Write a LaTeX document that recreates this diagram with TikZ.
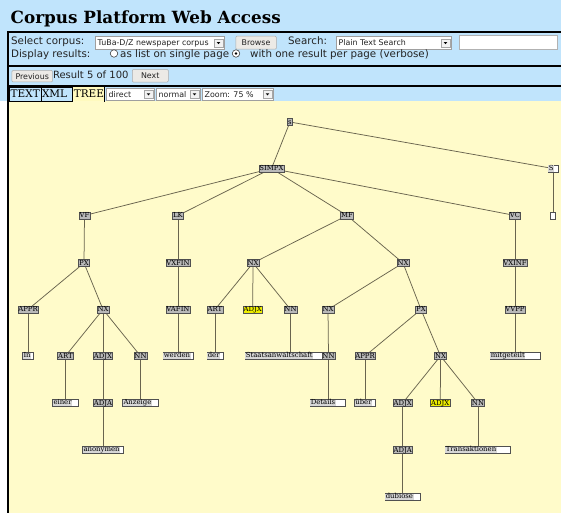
\documentclass[tikz,border=0pt]{standalone}
\usepackage{fontspec}
\setmainfont{DejaVu Serif}
\newfontfamily\uisans{DejaVu Sans}
\newfontfamily\uiserif{DejaVu Serif}
\usetikzlibrary{calc}
\pgfdeclarelayer{bglayer}
\pgfdeclarelayer{edgelayer}
\pgfsetlayers{bglayer,edgelayer,main}
\definecolor{bgblue}{RGB}{192,228,252}
\definecolor{bgyellow}{RGB}{255,251,202}
\definecolor{tabyellow}{RGB}{255,250,190}
\definecolor{hlfill}{RGB}{238,238,0}
\definecolor{labfill}{RGB}{185,185,185}
\definecolor{leafhl}{RGB}{215,215,215}
\definecolor{boxline}{RGB}{80,80,80}
\definecolor{edgecol}{RGB}{105,100,78}
\definecolor{uitext}{RGB}{35,35,35}
\definecolor{btnfill}{RGB}{236,234,230}
\newcommand\treefont{\uiserif\fontsize{6.9}{7}\selectfont}
\newcommand\formfont{\uisans\fontsize{10.3}{12}\selectfont}
\newcommand\resfont{\uisans\fontsize{10}{12}\selectfont}
\newcommand\smallui{\uisans\fontsize{7.9}{9}\selectfont}
\newcommand\tabfont{\uiserif\fontsize{10.5}{12}\selectfont}
\newcommand\titlefont{\uiserif\bfseries\fontsize{16.8}{19}\selectfont}
\tikzset{
  lab/.style={draw=boxline, fill=labfill, line width=0.5pt, inner xsep=0.5pt, inner ysep=0pt,
    minimum height=7.3pt, font=\treefont, text height=5pt, text depth=0.6pt},
  hlab/.style={lab, fill=hlfill},
  leafbox/.style={draw=boxline, fill=white, line width=0.5pt, minimum height=7.3pt, inner sep=0pt},
  leaftext/.style={fill=leafhl, inner xsep=0.5pt, inner ysep=0pt, font=\treefont,
    text height=5pt, text depth=1.3pt, minimum height=6.6pt},
  edge/.style={draw=edgecol, line width=0.75pt},
  ddbox/.style={draw=gray!75, fill=white, line width=0.5pt, inner sep=0pt},
  ddtext/.style={font=\smallui, text=uitext, inner sep=0pt},
  ddarrow/.style={draw=gray!70, fill=gray!10, line width=0.4pt, minimum size=8.5pt, inner sep=0pt},
  btn/.style={draw=gray!65, fill=btnfill, line width=0.5pt, rounded corners=1pt, inner sep=0pt,
    font=\smallui, text=uitext},
  uitxt/.style={font=\formfont, text=uitext, inner sep=0pt, anchor=base west},
  radio/.style={circle, draw=gray!55!black, fill=white, line width=0.6pt, minimum size=7.5pt, inner sep=0pt},
  tabbox/.style={draw=black, line width=0.8pt, inner sep=0pt, anchor=north west, minimum height=14pt},
  blackline/.style={draw=black, line width=1.8pt}
}
\newcommand\dropdown[6]{%
  \node[ddbox, anchor=north west, minimum width=#4, minimum height=#5] (#1) at (#2,#3) {};
  \node[ddtext, anchor=west] at ([xshift=2.5pt]#1.west) {#6};
  \node[ddarrow] (#1a) at ([xshift=-6pt]#1.east) {};
  \fill[black] ([xshift=-1.8pt,yshift=0.9pt]#1a.center) -- ++(3.6pt,0) -- ++(-1.8pt,-2pt) -- cycle;
}
\newcommand\leafnode[5]{%
  \node[leafbox, minimum width=#4] (#1) at (#2,#3) {};
  \node[leaftext, anchor=west, xshift=0.35pt] at (#1.west) {#5};
}
\begin{document}
\begin{tikzpicture}[x=1pt,y=-1pt]
\useasboundingbox (0,0) rectangle (561,513);
\begin{pgfonlayer}{bglayer}
  \fill[bgblue] (0,0) rectangle (561,101);
  \fill[white] (0,101) rectangle (8,513);
  \fill[bgyellow] (8,101) rectangle (561,513);
\end{pgfonlayer}
% frame lines
\draw[blackline] (7,32) -- (561,32);
\draw[blackline] (7,65.8) -- (561,65.8);
\draw[blackline] (7,85.8) -- (561,85.8);
\draw[blackline] (8,31.1) -- (8,513);
% title
\node[anchor=base west, font=\titlefont, inner sep=0pt] (title) at (10.5,23.3) {Corpus Platform Web Access};
% form row 1
\node[uitxt] (selcorp) at (11,44.8) {Select corpus:};
\dropdown{corpus}{95}{36.5}{129pt}{12.5pt}{TuBa-D/Z newspaper corpus}
\node[btn, anchor=north west, minimum width=40.5pt, minimum height=13pt] (browse) at (235.5,36) {Browse};
\node[uitxt] (search) at (288,44.8) {Search:};
\dropdown{mode}{336}{36.5}{115pt}{12.5pt}{Plain Text Search}
\node[ddbox, draw=gray!60, line width=0.9pt, anchor=north west, minimum width=98pt, minimum height=14pt] (query) at (459,35.3) {};
% form row 2
\node[uitxt] (disp) at (11,57.3) {Display results:};
\node[radio] (r1) at (114,53.5) {};
\node[uitxt] (opt1) at (120,57.3) {as list on single page};
\node[radio] (r2) at (236,53.5) {};
\fill[black] (r2.center) circle (1.4pt);
\node[uitxt] (opt2) at (250,57.3) {with one result per page (verbose)};
% navigation row
\node[btn, anchor=north west, minimum width=40.5pt, minimum height=11.5pt] (prev) at (11.7,70.2) {Previous};
\node[anchor=base west, font=\resfont, text=uitext, inner sep=0pt] (res) at (52.8,78.3) {Result 5 of 100};
\node[btn, anchor=north west, minimum width=36pt, minimum height=12.5pt] (next) at (132,69.3) {Next};
% tab row
\node[tabbox, fill=bgblue, minimum width=32pt] (ttext) at (8.8,87) {};
\node[font=\tabfont, inner sep=0pt, anchor=base] at ([yshift=-10.3pt]ttext.north) {TEXT};
\node[tabbox, fill=bgblue, minimum width=31pt] (txml) at (40.8,87) {};
\node[font=\tabfont, inner sep=0pt, anchor=base west] at ([xshift=1pt,yshift=-10.3pt]txml.north west) {XML};
\node[tabbox, draw=none, fill=tabyellow, minimum width=31pt] (ttree) at (73,87) {};
\draw[black, line width=0.8pt] (ttree.north east) -- (ttree.south east);
\node[font=\tabfont, inner sep=0pt, anchor=base] at ([yshift=-10.3pt]ttree.north) {TREE};
\dropdown{direct}{106}{88}{48pt}{12pt}{direct}
\dropdown{normal}{156}{88}{44pt}{12pt}{normal}
\dropdown{zoom}{202}{88}{71pt}{12pt}{Zoom: 75 \%}
% ---------------- tree ----------------
\node[lab] (s) at (290,122) {s};
\leafnode{S}{553}{168.5}{10pt}{S}
\node[leafbox, minimum width=5pt] (empty) at (552.7,215.5) {};
\node[lab] (simpx) at (271.5,168.5) {SIMPX};
\node[lab] (vf) at (84.5,215.5) {VF};
\node[lab] (lk) at (178,215.5) {LK};
\node[lab] (mf) at (347,215.5) {MF};
\node[lab] (vc) at (515,215.5) {VC};
\node[lab] (px1) at (84,263) {PX};
\node[lab] (vxfin) at (178,263) {VXFIN};
\node[lab] (nx2) at (253,263) {NX};
\node[lab] (nx3) at (403,263) {NX};
\node[lab] (vxinf) at (515,263) {VXINF};
\node[lab] (appr1) at (28,309.5) {APPR};
\node[lab] (nx1) at (103,309.5) {NX};
\node[lab] (vafin) at (178,309.5) {VAFIN};
\node[lab] (art2) at (215,309.5) {ART};
\node[hlab] (adjx2) at (252.7,309.5) {ADJX};
\node[lab] (nn2) at (290.5,309.5) {NN};
\node[lab] (nx4) at (328,309.5) {NX};
\node[lab] (px2) at (421,309.5) {PX};
\node[lab] (vvpp) at (515,309.5) {VVPP};
\leafnode{in}{28}{356}{10.6pt}{In}
\node[lab] (art1) at (65.5,356) {ART};
\node[lab] (adjx1) at (103,356) {ADJX};
\node[lab] (nn1) at (140.5,356) {NN};
\leafnode{werden}{178}{356}{30pt}{werden}
\leafnode{der}{215}{356}{16pt}{der}
\leafnode{staats}{286}{356}{82pt}{Staatsanwaltschaft}
\node[lab] (nn3) at (328.5,356) {NN};
\node[lab] (appr2) at (365,356) {APPR};
\node[lab] (nx5) at (440.5,356) {NX};
\leafnode{mitgeteilt}{515}{356}{50pt}{mitgeteilt}
\leafnode{einer}{65.5}{403}{25.6pt}{einer}
\node[lab] (adja1) at (103,403) {ADJA};
\leafnode{anzeige}{140.5}{403}{35.6pt}{Anzeige}
\leafnode{details}{327.5}{403}{35pt}{Details}
\leafnode{ueber}{365}{403}{21pt}{über}
\node[lab] (adjx3) at (402.7,403) {ADJX};
\node[hlab] (adjx4) at (440.3,403) {ADJX};
\node[lab] (nn4) at (478,403) {NN};
\leafnode{anonymen}{103}{450}{40.6pt}{anonymen}
\node[lab] (adja2) at (402.7,450) {ADJA};
\leafnode{transakt}{477.5}{450}{65pt}{Transaktionen}
\leafnode{dubiose}{402.5}{497}{35pt}{dubiose}
% edges
\begin{pgfonlayer}{edgelayer}
  \draw[edge] (s.center) -- (simpx.center);
  \draw[edge] (s.center) -- (S.center);
  \draw[edge] (S.center) -- (S.center |- empty.center);
  \draw[edge] (simpx.center) -- (vf.center);
  \draw[edge] (simpx.center) -- (lk.center);
  \draw[edge] (simpx.center) -- (mf.center);
  \draw[edge] (simpx.center) -- (vc.center);
  \draw[edge] (vf.center) -- (px1.center);
  \draw[edge] (px1.center) -- (appr1.center);
  \draw[edge] (px1.center) -- (nx1.center);
  \draw[edge] (appr1.center) -- (appr1.center |- in.center);
  \draw[edge] (nx1.center) -- (art1.center);
  \draw[edge] (nx1.center) -- (adjx1.center);
  \draw[edge] (nx1.center) -- (nn1.center);
  \draw[edge] (art1.center) -- (art1.center |- einer.center);
  \draw[edge] (adjx1.center) -- (adja1.center);
  \draw[edge] (adja1.center) -- (adja1.center |- anonymen.center);
  \draw[edge] (nn1.center) -- (nn1.center |- anzeige.center);
  \draw[edge] (lk.center) -- (vxfin.center);
  \draw[edge] (vxfin.center) -- (vafin.center);
  \draw[edge] (vafin.center) -- (vafin.center |- werden.center);
  \draw[edge] (mf.center) -- (nx2.center);
  \draw[edge] (mf.center) -- (nx3.center);
  \draw[edge] (nx2.center) -- (art2.center);
  \draw[edge] (nx2.center) -- (adjx2.center);
  \draw[edge] (nx2.center) -- (nn2.center);
  \draw[edge] (art2.center) -- (art2.center |- der.center);
  \draw[edge] (nn2.center) -- (nn2.center |- staats.center);
  \draw[edge] (nx3.center) -- (nx4.center);
  \draw[edge] (nx3.center) -- (px2.center);
  \draw[edge] (nx4.center) -- (nn3.center);
  \draw[edge] (nn3.center) -- (nn3.center |- details.center);
  \draw[edge] (px2.center) -- (appr2.center);
  \draw[edge] (px2.center) -- (nx5.center);
  \draw[edge] (appr2.center) -- (appr2.center |- ueber.center);
  \draw[edge] (nx5.center) -- (adjx3.center);
  \draw[edge] (nx5.center) -- (adjx4.center);
  \draw[edge] (nx5.center) -- (nn4.center);
  \draw[edge] (adjx3.center) -- (adja2.center);
  \draw[edge] (adja2.center) -- (adja2.center |- dubiose.center);
  \draw[edge] (nn4.center) -- (nn4.center |- transakt.center);
  \draw[edge] (vc.center) -- (vxinf.center);
  \draw[edge] (vxinf.center) -- (vvpp.center);
  \draw[edge] (vvpp.center) -- (vvpp.center |- mitgeteilt.center);
\end{pgfonlayer}
\end{tikzpicture}
\end{document}
